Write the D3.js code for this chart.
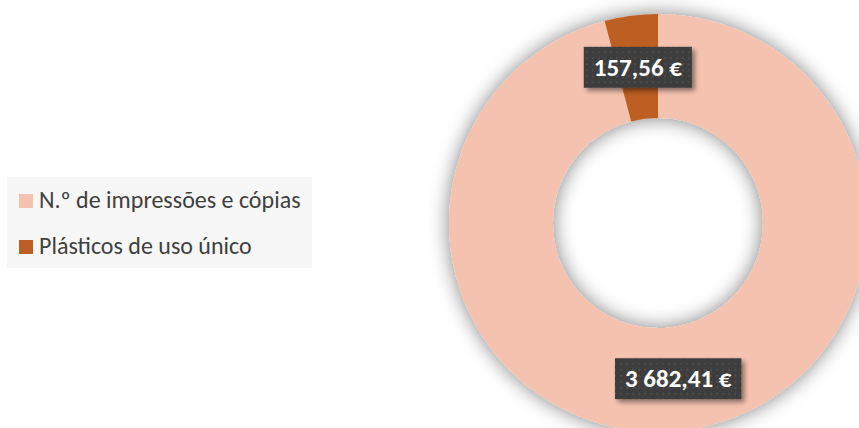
<!DOCTYPE html>
<html>
<head>
<meta charset="utf-8">
<script src="https://cdn.jsdelivr.net/npm/d3@7"></script>
<style>
  body { margin: 0; background: #fff; }
  svg { display: block; }
</style>
</head>
<body>
<div id="chart"></div>
<script>
// chart data
var categories = ["N.º de impressões e cópias", "Plásticos de uso único"];
var values = [3682.41, 157.56];
var colors = ["#F5C2B0", "#BD5F24"];

var width = 859, height = 428;
var cx = 658, cy = 223;
var outerR = 209, innerR = 105;

var pt = d3.formatLocale({decimal: ",", thousands: " ", grouping: [3], currency: ["", " €"]});
var fmt = pt.format("$,.2f");

var svg = d3.select("#chart")
    .append("svg")
    .attr("width", width)
    .attr("height", height);

var defs = svg.append("defs");

// soft glow-like shadow around the ring
var sh = defs.append("filter").attr("id", "ringShadow")
    .attr("x", "-20%").attr("y", "-20%").attr("width", "140%").attr("height", "140%");
sh.append("feGaussianBlur").attr("in", "SourceAlpha").attr("stdDeviation", 10).attr("result", "b");
sh.append("feComponentTransfer").attr("in", "b").attr("result", "b2")
    .append("feFuncA").attr("type", "linear").attr("slope", 0.5);
var m = sh.append("feMerge");
m.append("feMergeNode").attr("in", "b2");
m.append("feMergeNode").attr("in", "SourceGraphic");

// shadow for the label boxes
var lsh = defs.append("filter").attr("id", "labelShadow")
    .attr("x", "-20%").attr("y", "-30%").attr("width", "140%").attr("height", "170%");
lsh.append("feGaussianBlur").attr("in", "SourceAlpha").attr("stdDeviation", 2.5).attr("result", "b");
lsh.append("feOffset").attr("in", "b").attr("dx", 3).attr("dy", 3).attr("result", "o");
lsh.append("feComponentTransfer").attr("in", "o").attr("result", "o2")
    .append("feFuncA").attr("type", "linear").attr("slope", 0.45);
var lm = lsh.append("feMerge");
lm.append("feMergeNode").attr("in", "o2");
lm.append("feMergeNode").attr("in", "SourceGraphic");

// dotted dark fill for labels
var pat = defs.append("pattern").attr("id", "dots")
    .attr("patternUnits", "userSpaceOnUse").attr("width", 6).attr("height", 6);
pat.append("rect").attr("width", 6).attr("height", 6).attr("fill", "#3d3d3d");
pat.append("rect").attr("x", 2).attr("y", 2).attr("width", 2).attr("height", 2).attr("fill", "#4d4d4d");

// legend
var legend = svg.append("g");
legend.append("rect")
    .attr("x", 7).attr("y", 177)
    .attr("width", 305).attr("height", 91)
    .attr("fill", "#f7f7f7");

var items = legend.selectAll(".item")
    .data(categories)
    .enter()
    .append("g")
    .attr("transform", function (d, i) { return "translate(19," + (194 + i * 46) + ")"; });

items.append("rect")
    .attr("width", 14).attr("height", 14)
    .attr("fill", function (d, i) { return colors[i]; });

items.append("text")
    .attr("x", 20).attr("y", 14)
    .style("font-family", "Carlito, 'Open Sans', sans-serif")
    .style("font-size", "24px")
    .attr("fill", "#404040")
    .text(function (d) { return d; });

// donut
var pie = d3.pie().sort(null).value(function (d) { return d; });
var arc = d3.arc().innerRadius(innerR).outerRadius(outerR);
var arcs = pie(values);

var g = svg.append("g").attr("transform", "translate(" + cx + "," + cy + ")");

g.append("g")
    .attr("filter", "url(#ringShadow)")
    .selectAll("path")
    .data(arcs)
    .enter()
    .append("path")
    .attr("d", arc)
    .attr("fill", function (d, i) { return colors[i]; });

// data labels at the slice centroids
var lab = g.selectAll(".lab")
    .data(arcs)
    .enter()
    .append("g")
    .attr("transform", function (d) { return "translate(" + arc.centroid(d) + ")"; });

lab.each(function (d) {
    var el = d3.select(this);
    var t = el.append("text")
        .attr("text-anchor", "middle")
        .attr("dy", "0.34em")
        .style("font-family", "Carlito, 'Open Sans', sans-serif")
        .style("font-weight", "bold")
        .style("font-size", "25px")
        .attr("fill", "#fff")
        .text(fmt(d.value));
    var w = t.node().getComputedTextLength();
    el.insert("rect", "text")
        .attr("x", -w / 2 - 10).attr("y", -20.5)
        .attr("width", w + 20).attr("height", 41)
        .attr("fill", "url(#dots)")
        .attr("filter", "url(#labelShadow)");
});
</script>
</body>
</html>
